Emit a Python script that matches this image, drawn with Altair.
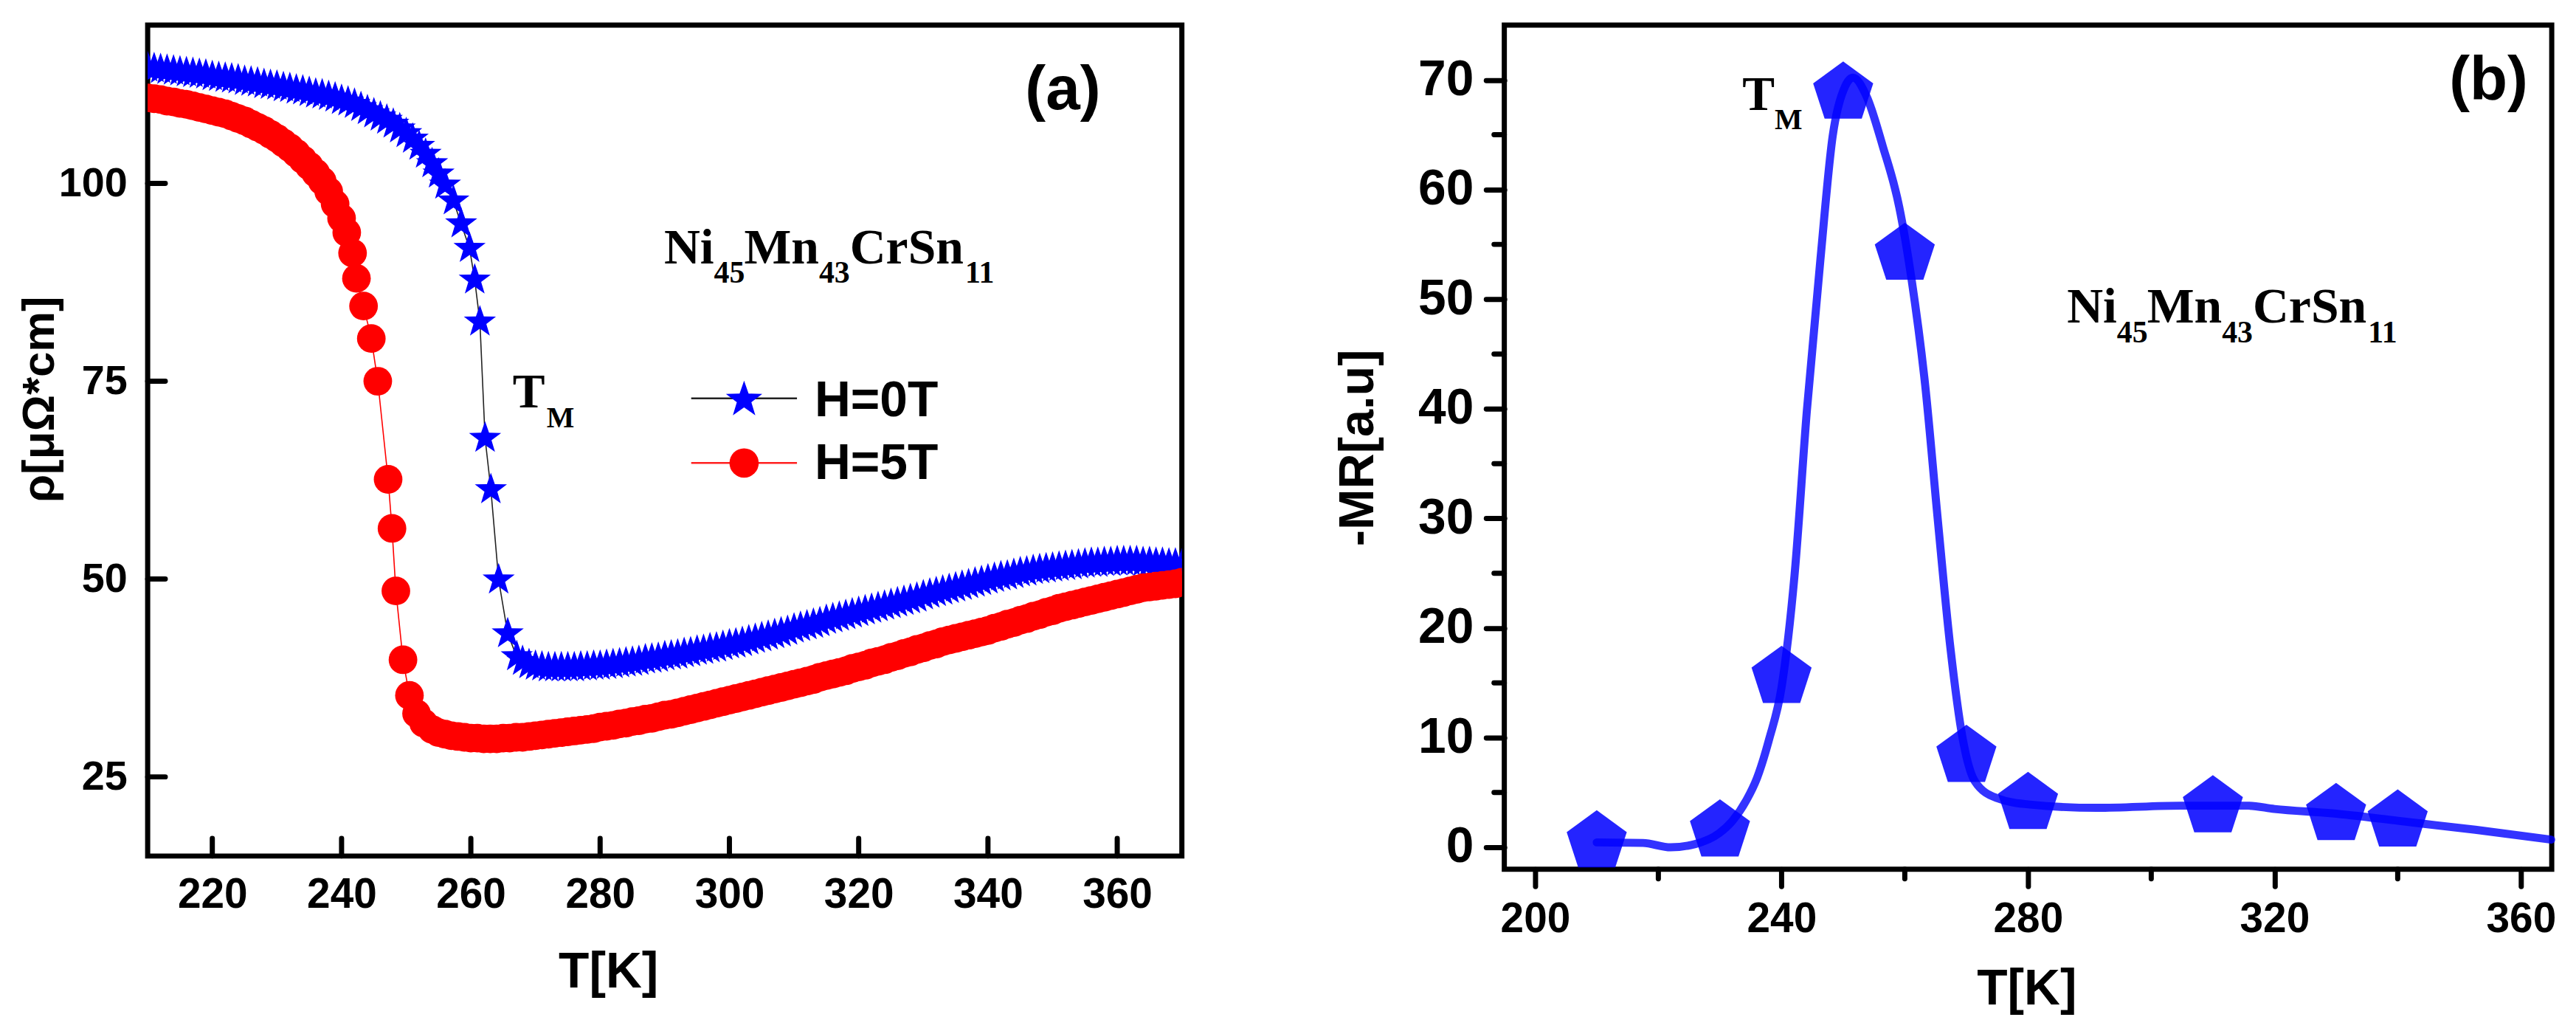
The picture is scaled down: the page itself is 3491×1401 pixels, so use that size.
import math
import altair as alt
import pandas as pd

# ---------------- data: panel (a) resistivity ----------------
T_H0 = [210, 211, 212, 213, 214, 215, 216, 217, 218, 219, 220, 221, 222, 223, 224, 225, 226, 227, 228, 229,
        230, 231, 232, 233, 234, 235, 236, 237, 238, 239, 240, 241, 242, 243, 244, 245, 246, 247, 248, 249,
        250, 251, 252, 253, 254, 255, 256, 257.3, 258.5, 259.8, 260.6, 261.4, 262.2, 263.1, 264.3, 265.7, 267.1,
        268, 269, 270, 271, 272, 273, 274, 275, 276, 277, 278, 279, 280, 281, 282, 283, 284, 285, 286, 287, 288, 289,
        290, 291, 292, 293, 294, 295, 296, 297, 298, 299, 300, 301, 302, 303, 304, 305, 306, 307, 308, 309,
        310, 311, 312, 313, 314, 315, 316, 317, 318, 319, 320, 321, 322, 323, 324, 325, 326, 327, 328, 329,
        330, 331, 332, 333, 334, 335, 336, 337, 338, 339, 340, 341, 342, 343, 344, 345, 346, 347, 348, 349,
        350, 351, 352, 353, 354, 355, 356, 357, 358, 359, 360, 361, 362, 363, 364, 365, 366, 367, 368, 369, 370]
RHO_H0 = [114.6, 114.5, 114.4, 114.3, 114.2, 114.1, 114.0, 113.9, 113.8, 113.7, 113.5, 113.4, 113.3, 113.2, 113.1,
          112.9, 112.8, 112.7, 112.5, 112.4, 112.3, 112.1, 112.0, 111.8, 111.7, 111.5, 111.3, 111.2, 111.0, 110.8,
          110.5, 110.3, 110.0, 109.6, 109.2, 108.8, 108.4, 108.0, 107.5, 106.9, 106.3, 105.6, 104.7, 103.7, 102.5,
          101.2, 99.8, 97.8, 94.9, 91.8, 87.8, 82.5, 67.8, 61.3, 49.9, 43.1, 40.2,
          39.6, 39.2, 39.0, 38.9, 38.8, 38.8, 38.8, 38.8, 38.8, 38.9, 38.9, 39.0, 39.0, 39.1, 39.2, 39.3, 39.4, 39.5,
          39.6, 39.8, 39.9, 40.0, 40.2, 40.3, 40.4, 40.6, 40.7, 40.9, 41.0, 41.2, 41.3, 41.5, 41.7, 41.8, 42.0, 42.2,
          42.4, 42.6, 42.8, 43.0, 43.2, 43.4, 43.7, 43.9, 44.1, 44.3, 44.5, 44.8, 45.0, 45.2, 45.4, 45.6, 45.8, 46.0,
          46.2, 46.4, 46.6, 46.8, 47.0, 47.2, 47.4, 47.6, 47.9, 48.1, 48.3, 48.5, 48.7, 48.9, 49.1, 49.3, 49.5, 49.7,
          49.9, 50.1, 50.3, 50.4, 50.6, 50.8, 50.9, 51.1, 51.2, 51.3, 51.4, 51.5, 51.6, 51.7, 51.8, 51.9, 52.0, 52.0,
          52.1, 52.1, 52.2, 52.2, 52.2, 52.2, 52.1, 52.1, 52.0, 52.0, 51.9, 51.9, 51.8]

T_H5 = [210, 211, 212, 213, 214, 215, 216, 217, 218, 219, 220, 221, 222, 223, 224, 225, 226, 227, 228, 229,
        230, 231, 232, 233, 234, 235, 236, 237, 238, 239, 240, 240.8, 241.7, 242.3, 243.4, 244.6, 245.6, 247.2,
        247.8, 248.4, 249.5, 250.5, 251.6, 252.7, 254, 255, 256, 257, 258, 259, 260, 261, 262, 263, 264, 265, 266,
        267, 268, 269, 270, 271, 272, 273, 274, 275, 276, 277, 278, 279, 280, 281, 282, 283, 284, 285, 286, 287,
        288, 289, 290, 291, 292, 293, 294, 295, 296, 297, 298, 299, 300, 301, 302, 303, 304, 305, 306, 307, 308,
        309, 310, 311, 312, 313, 314, 315, 316, 317, 318, 319, 320, 321, 322, 323, 324, 325, 326, 327, 328, 329,
        330, 331, 332, 333, 334, 335, 336, 337, 338, 339, 340, 341, 342, 343, 344, 345, 346, 347, 348, 349, 350,
        351, 352, 353, 354, 355, 356, 357, 358, 359, 360, 361, 362, 363, 364, 365, 366, 367, 368, 369, 370]
RHO_H5 = [110.8, 110.7, 110.6, 110.4, 110.3, 110.1, 110.0, 109.8, 109.6, 109.4, 109.2, 109.0, 108.8, 108.5, 108.2,
          107.9, 107.5, 107.1, 106.7, 106.2, 105.7, 105.1, 104.5, 103.8, 103.0, 102.2, 101.3, 100.3, 99.0, 97.4,
          95.6, 93.8, 91.2, 88.0, 84.5, 80.4, 75.0, 62.6, 56.4, 48.5, 39.8, 35.3, 33.0, 31.8, 31.0, 30.6, 30.4,
          30.2, 30.1, 30.0, 29.9, 29.9, 29.8, 29.8, 29.8, 29.9, 29.9, 30.0, 30.0, 30.1, 30.2, 30.3, 30.4, 30.5,
          30.6, 30.7, 30.8, 30.9, 31.0, 31.1, 31.3, 31.4, 31.5, 31.7, 31.8, 32.0, 32.1, 32.3, 32.4, 32.6, 32.8,
          32.9, 33.1, 33.3, 33.5, 33.7, 33.9, 34.1, 34.3, 34.5, 34.7, 34.9, 35.1, 35.3, 35.5, 35.7, 35.9, 36.1,
          36.3, 36.5, 36.7, 36.9, 37.1, 37.3, 37.6, 37.8, 38.0, 38.2, 38.4, 38.7, 38.9, 39.1, 39.4, 39.6, 39.8,
          40.1, 40.3, 40.6, 40.8, 41.1, 41.3, 41.6, 41.8, 42.1, 42.3, 42.5, 42.7, 42.9, 43.1, 43.3, 43.5, 43.8,
          44.0, 44.3, 44.5, 44.8, 45.0, 45.3, 45.5, 45.8, 46.0, 46.3, 46.5, 46.7, 46.9, 47.1, 47.3, 47.5, 47.7,
          47.9, 48.1, 48.3, 48.5, 48.7, 48.9, 49.0, 49.1, 49.2, 49.3, 49.4, 49.6]

# ---------------- data: panel (b) magnetoresistance ----------------
T_MR = [210, 230, 240, 250, 260, 270, 280, 310, 330, 340]
MR = [0.5, 1.5, 15.5, 68.8, 54.1, 8.3, 4.0, 3.7, 3.0, 2.4]
T_FIT = [210, 217.5, 222, 226, 229.9, 232, 234.3, 236, 238.0, 240.0, 242.1, 244.1, 246.3, 248.3, 250.3, 251.6,
         253.8, 256.4, 259.1, 261.1, 263.3, 265.3, 267.4, 269.4, 271.4, 274.9, 280.3, 291.2, 304.9, 315.7, 320,
         329.4, 340.3, 352.6, 364.9]
MR_FIT = [0.45, 0.4, 0.0, 0.3, 1.3, 2.4, 4.3, 6.3, 9.9, 14.6, 24.8, 39.8, 53.6, 64.9, 69.4, 70.2,
          68.5, 64.0, 58.4, 51.8, 42.2, 30.2, 18.2, 9.9, 6.0, 4.5, 3.9, 3.6, 3.8, 3.8, 3.5,
          3.1, 2.4, 1.6, 0.7]

# ---------------- tick values ----------------
XA_TICKS = [220, 240, 260, 280, 300, 320, 340, 360]
YA_TICKS = [25, 50, 75, 100]
XB_TICKS = [200, 240, 280, 320, 360]
XB_MINOR = [220, 260, 300, 340]
YB_TICKS = [0, 10, 20, 30, 40, 50, 60, 70]
YB_MINOR = [5, 15, 25, 35, 45, 55, 65]

SANS = "Liberation Sans"
SERIF = "Liberation Serif"


def poly_path(n_pts, radii):
    pts = []
    k = len(radii)
    for i in range(n_pts * k):
        ang = -math.pi / 2 + i * math.pi * 2 / (n_pts * k)
        r = radii[i % k]
        pts.append(f"{r * math.cos(ang):.4f},{r * math.sin(ang):.4f}")
    return "M" + "L".join(pts) + "Z"


STAR = poly_path(5, [1.0, 0.40])
PENT = poly_path(5, [1.0])


def label(s, px, py, font, size, weight="bold", align="left", baseline="alphabetic"):
    return alt.Chart(pd.DataFrame({"s": [s]})).mark_text(
        font=font, fontSize=size, fontWeight=weight, align=align, baseline=baseline, color="black"
    ).encode(text="s:N", x=alt.value(px), y=alt.value(py))


def formula(px, py, dy):
    main = [("Ni", 0), ("Mn", 109), ("CrSn", 253)]
    subs = [("45", 68), ("43", 211), ("11", 410)]
    out = []
    for s, o in main:
        out.append(label(s, px + o, py, SERIF, 68))
    for s, o in subs:
        out.append(label(s, px + o, py + dy, SERIF, 42))
    return out


# ---------------- panel (a) ----------------
WA, HA = 1408, 1131
xa = alt.Scale(domain=[210, 370], nice=False, zero=False)
ya = alt.Scale(domain=[15, 120], nice=False, zero=False)
xa_axis = alt.Axis(values=XA_TICKS, ticks=False, tickSize=0, domain=False, grid=False, format="d",
                   labelFont=SANS, labelFontWeight="bold", labelFontSize=57, labelColor="black", labelPadding=25,
                   title="T[K]", titleFont=SANS, titleFontWeight="bold", titleFontSize=68, titleColor="black",
                   titleX=627, titleY=124, titleBaseline="top", titleAlign="center")
ya_axis = alt.Axis(values=YA_TICKS, ticks=False, tickSize=0, domain=False, grid=False, format="d",
                   labelFont=SANS, labelFontWeight="bold", labelFontSize=56, labelColor="black", labelPadding=28,
                   title="ρ[μΩ*cm]", titleFont=SANS, titleFontWeight="bold", titleFontSize=62, titleColor="black",
                   titleX=-128, titleY=509, titleBaseline="alphabetic", titleAlign="center", titleAngle=270)

df0 = pd.DataFrame({"T": T_H0, "rho": RHO_H0})
df5 = pd.DataFrame({"T": T_H5, "rho": RHO_H5})

enc_a = dict(x=alt.X("T:Q", scale=xa, axis=xa_axis), y=alt.Y("rho:Q", scale=ya, axis=ya_axis))
line0 = alt.Chart(df0).mark_line(color="#222222", strokeWidth=1.6, clip=True).encode(**enc_a)
pts0 = alt.Chart(df0).mark_point(shape=STAR, filled=True, color="#0000ff", opacity=1, size=2116,
                                 clip=True).encode(**enc_a)
line5 = alt.Chart(df5).mark_line(color="#ff0000", strokeWidth=1.6, clip=True).encode(**enc_a)
pts5 = alt.Chart(df5).mark_point(shape="circle", filled=True, color="#ff0000", opacity=1, size=1520,
                                 clip=True).encode(**enc_a)

xt_a = alt.Chart(pd.DataFrame({"T": XA_TICKS})).mark_rule(color="black", strokeWidth=7, strokeCap="round").encode(
    x=alt.X("T:Q", scale=xa, axis=xa_axis), y=alt.value(HA), y2=alt.value(HA - 24))
yt_a = alt.Chart(pd.DataFrame({"rho": YA_TICKS})).mark_rule(color="black", strokeWidth=7, strokeCap="round").encode(
    y=alt.Y("rho:Q", scale=ya, axis=ya_axis), x=alt.value(0), x2=alt.value(24))

# legend (drawn by hand, as in the original)
leg_lines = [
    alt.Chart(pd.DataFrame({"s": ["H=0T"]})).mark_rule(color="#222222", strokeWidth=2.5).encode(
        x=alt.value(740), x2=alt.value(884), y=alt.value(508)),
    alt.Chart(pd.DataFrame({"s": ["H=5T"]})).mark_rule(color="#ff2020", strokeWidth=2.5).encode(
        x=alt.value(740), x2=alt.value(884), y=alt.value(596)),
    alt.Chart(pd.DataFrame({"s": ["H=0T"]})).mark_point(shape=STAR, filled=True, color="#0000ff", opacity=1,
                                                          size=2704).encode(x=alt.value(812), y=alt.value(510)),
    alt.Chart(pd.DataFrame({"s": ["H=5T"]})).mark_point(shape="circle", filled=True, color="#ff0000", opacity=1,
                                                          size=1590).encode(x=alt.value(812), y=alt.value(596)),
    label("H=0T", 908, 532, SANS, 68),
    label("H=5T", 908, 618, SANS, 68),
]

ann_a = [label("(a)", 1246, 114, SANS, 84, align="center"),
         label("T", 497, 520, SERIF, 66),
         label("M", 543, 547, SERIF, 40)] + formula(703, 324, 27)

panel_a = alt.layer(line0, pts0, line5, pts5, xt_a, yt_a, *leg_lines, *ann_a).properties(width=WA, height=HA)

# ---------------- panel (b) ----------------
WB, HB = 1426, 1149
xb = alt.Scale(domain=[195, 365], nice=False, zero=False)
yb = alt.Scale(domain=[-2, 75], nice=False, zero=False)
xb_axis = alt.Axis(values=XB_TICKS, ticks=True, tickSize=23, tickWidth=7, tickColor="black", tickCap="round",
                   domain=False, grid=False, format="d",
                   labelFont=SANS, labelFontWeight="bold", labelFontSize=57, labelColor="black", labelPadding=17,
                   title="T[K]", titleFont=SANS, titleFontWeight="bold", titleFontSize=68, titleColor="black",
                   titleX=711, titleY=130, titleBaseline="top", titleAlign="center")
yb_axis = alt.Axis(values=YB_TICKS, ticks=True, tickSize=25, tickWidth=7, tickColor="black", tickCap="round",
                   domain=False, grid=False, format="d",
                   labelFont=SANS, labelFontWeight="bold", labelFontSize=68, labelColor="black", labelPadding=17,
                   title="-MR[a.u]", titleFont=SANS, titleFontWeight="bold", titleFontSize=67, titleColor="black",
                   titleX=-179, titleY=575, titleBaseline="alphabetic", titleAlign="center", titleAngle=270)

dfm = pd.DataFrame({"T": T_MR, "mr": MR})
dff = pd.DataFrame({"T": T_FIT, "mr": MR_FIT})
enc_b = dict(x=alt.X("T:Q", scale=xb, axis=xb_axis), y=alt.Y("mr:Q", scale=yb, axis=yb_axis))
pent = alt.Chart(dfm).mark_point(shape=PENT, filled=True, color="#0000ff", opacity=0.86, size=7396).encode(**enc_b)
fit = alt.Chart(dff).mark_line(color="#0000ff", strokeWidth=11, opacity=0.8, interpolate="monotone",
                               strokeCap="round").encode(**enc_b)

xm_b = alt.Chart(pd.DataFrame({"T": XB_MINOR})).mark_rule(color="black", strokeWidth=7, strokeCap="round").encode(
    x=alt.X("T:Q", scale=xb, axis=xb_axis), y=alt.value(HB), y2=alt.value(HB + 13))
ym_b = alt.Chart(pd.DataFrame({"mr": YB_MINOR})).mark_rule(color="black", strokeWidth=7, strokeCap="round").encode(
    y=alt.Y("mr:Q", scale=yb, axis=yb_axis), x=alt.value(-14), x2=alt.value(0))
spacer = alt.Chart(pd.DataFrame({"s": [""]})).mark_rule(opacity=0, strokeWidth=0.1).encode(
    x=alt.value(0), x2=alt.value(5), y=alt.value(-11.5))

ann_b = [label("(b)", 1340, 101, SANS, 84, align="center"),
         label("T", 324, 115, SERIF, 66),
         label("M", 368, 142, SERIF, 40)] + formula(766, 405, 27)

panel_b = alt.layer(pent, fit, xm_b, ym_b, spacer, *ann_b).properties(width=WB, height=HB)

chart = alt.hconcat(panel_a, panel_b, spacing=198).properties(
    padding={"left": 11, "top": 8, "right": 0, "bottom": 0}, background="white"
).configure_view(stroke="black", strokeWidth=7)

chart.save("out.html", embed_options={"renderer": "svg", "actions": False})
